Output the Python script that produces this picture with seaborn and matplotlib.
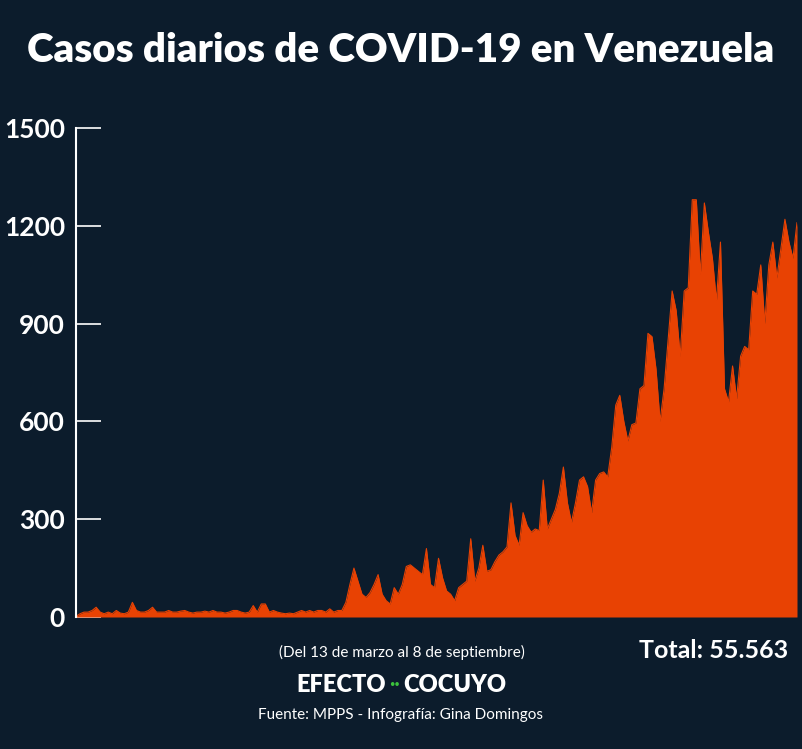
import matplotlib
matplotlib.use("Agg")
import pandas as pd
import seaborn as sns
import matplotlib.pyplot as plt

# Casos diarios (13 mar - 8 sep)
early = [2, 10, 15, 15, 20, 30, 15, 10, 15, 10, 20, 12, 10, 15, 45, 20, 15, 15, 20, 30,
         15, 15, 15, 20, 15, 15, 18, 20, 15, 12, 15, 15, 18, 15, 20, 15, 15, 12, 15, 20,
         20, 15, 12, 15, 35, 15, 40, 40, 15, 20, 15, 12, 10, 12, 10, 15, 20, 15, 20, 15,
         20, 20, 15, 25, 15, 20]
late = [20, 45, 100, 150, 110, 70, 60, 75, 100, 130, 70, 50, 40, 90, 70, 100, 155, 160,
        150, 140, 130, 210, 100, 90, 180, 120, 80, 70, 50, 90, 100, 110, 240, 110, 150,
        220, 140, 145, 170, 190, 200, 215, 350, 250, 220, 320, 280, 260, 270, 265, 420,
        270, 300, 330, 380, 460, 350, 290, 350, 420, 430, 400, 320, 420, 440, 445, 430,
        520, 650, 680, 600, 540, 590, 595, 700, 710, 870, 860, 760, 600, 700, 850, 1000,
        940, 800, 1000, 1010, 1280, 1280, 1050, 1270, 1180, 1100, 970, 1150, 700, 660,
        770, 670, 800, 830, 820, 1000, 990, 1080, 900, 1080, 1150, 1040, 1130, 1220, 1150,
        1100, 1210]
casos = early[:66] + late
dias = list(range(len(casos)))
df = pd.DataFrame({"dia": dias, "casos": casos})

bg = "#0c1c2c"
naranja = "#e84203"
sns.set_theme(style="dark")
plt.rcParams["font.family"] = ["Lato", "DejaVu Sans"]

fig = plt.figure(figsize=(8.02, 7.49), dpi=100, facecolor=bg)
ax = fig.add_axes([76 / 802, 1 - 617 / 749, (797 - 76) / 802, (617 - 128) / 749])
ax.set_facecolor(bg)
sns.lineplot(data=df, x="dia", y="casos", ax=ax, color=naranja, linewidth=0.8)
ax.fill_between(df["dia"], df["casos"], color=naranja, linewidth=0)
ax.set_xlim(0, len(casos) - 1)
ax.set_ylim(0, 1500)
ax.set_yticks([0, 300, 600, 900, 1200, 1500])
ax.set_xticks([])
ax.set_xlabel("")
ax.set_ylabel("")
for s in ["top", "right", "bottom"]:
    ax.spines[s].set_visible(False)
ax.spines["left"].set_color("white")
ax.spines["left"].set_linewidth(1.5)
ax.tick_params(axis="y", direction="in", length=18, width=1.2, color="white",
               labelcolor="white", labelsize=19, pad=8, left=True)
for lab in ax.get_yticklabels():
    lab.set_fontweight("bold")
ax.grid(False)

fig.text(0.5, 1 - 50 / 749, "Casos diarios de COVID-19 en Venezuela", color="white",
         fontsize=29, fontweight="heavy", ha="center", va="center")
fig.text(402 / 802, 1 - 652 / 749, "(Del 13 de marzo al 8 de septiembre)", color="white",
         fontsize=11, ha="center", va="center")
fig.text(788 / 802, 1 - 650 / 749, "Total: 55.563", color="white",
         fontsize=18, fontweight="bold", ha="right", va="center")
fig.text(386 / 802, 1 - 685 / 749, "EFECTO", color="white", fontsize=17,
         fontweight="heavy", ha="right", va="center")
fig.text(395 / 802, 1 - 685 / 749, "··", color="#3cc23c", fontsize=14,
         fontweight="bold", ha="center", va="center")
fig.text(403 / 802, 1 - 685 / 749, "COCUYO", color="white", fontsize=17,
         fontweight="heavy", ha="left", va="center")
fig.text(400 / 802, 1 - 715 / 749, "Fuente: MPPS - Infografía: Gina Domingos",
         color="white", fontsize=11, ha="center", va="center")

fig.savefig("out.png", dpi=100, facecolor=bg)
